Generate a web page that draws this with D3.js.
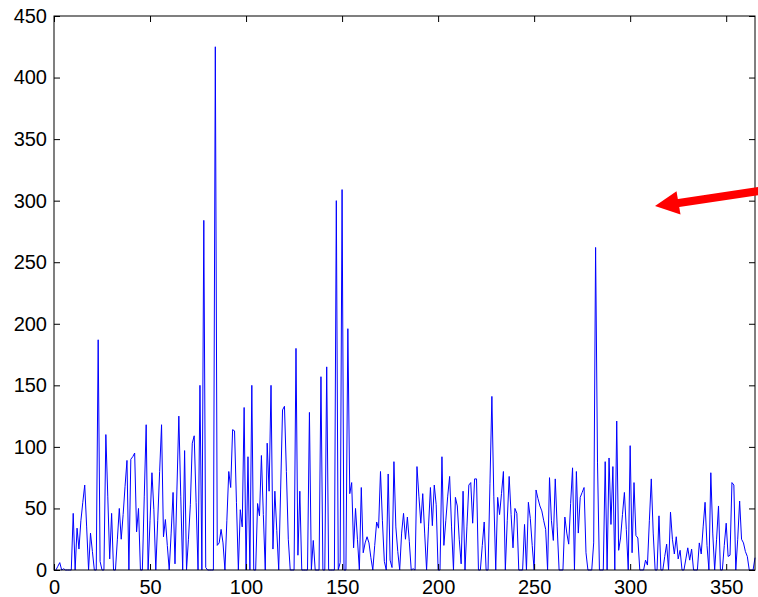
<!DOCTYPE html>
<html>
<head>
<meta charset="utf-8">
<script src="https://d3js.org/d3.v7.min.js"></script>
<style>
  body { margin: 0; background: #fff; }
  svg { display: block; }
  .tick text { font-family: "Liberation Sans", Arial, Helvetica, sans-serif; font-size: 20px; fill: #000; }
</style>
</head>
<body>
<div id="chart"></div>
<script>
// daily values, day 1..365
const values = [
  0, 3, 6, 0, 1, 0, 0, 0, 0, 46,
  0, 34, 17, 40, 55, 69, 35, 0, 30, 15,
  0, 0, 187, 7, 0, 0, 110, 60, 9, 46,
  0, 0, 25, 50, 25, 45, 68, 89, 0, 90,
  92, 95, 31, 50, 0, 0, 60, 118, 0, 40,
  79, 49, 0, 40, 80, 118, 27, 41, 20, 0,
  30, 63, 5, 65, 125, 60, 0, 97, 0, 25,
  53, 103, 109, 55, 0, 150, 0, 284, 2, 0,
  0, 0, 0, 425, 20, 22, 33, 22, 0, 40,
  80, 67, 114, 113, 55, 0, 49, 35, 132, 0,
  92, 0, 150, 0, 0, 54, 44, 93, 45, 0,
  103, 64, 150, 17, 64, 32, 0, 65, 130, 133,
  80, 25, 0, 0, 0, 180, 12, 64, 0, 0,
  0, 0, 128, 0, 24, 0, 0, 0, 157, 0,
  0, 165, 0, 0, 0, 0, 300, 0, 6, 309,
  0, 0, 196, 62, 71, 18, 50, 25, 0, 67,
  14, 22, 27, 22, 10, 0, 20, 39, 34, 80,
  40, 7, 0, 78, 8, 2, 88, 35, 15, 0,
  30, 46, 25, 43, 23, 0, 1, 0, 84, 60,
  38, 62, 30, 0, 35, 67, 36, 69, 53, 0,
  0, 92, 20, 40, 60, 76, 35, 0, 59, 52,
  25, 5, 64, 0, 35, 69, 71, 38, 74, 74,
  0, 0, 20, 39, 0, 0, 70, 141, 60, 0,
  59, 45, 62, 80, 0, 40, 76, 45, 18, 50,
  46, 0, 0, 0, 37, 0, 55, 42, 20, 0,
  65, 58, 52, 48, 40, 33, 0, 75, 40, 24,
  74, 35, 0, 0, 0, 43, 30, 21, 54, 83,
  0, 80, 30, 59, 63, 67, 14, 0, 0, 0,
  22, 262, 87, 0, 0, 0, 88, 0, 91, 37,
  84, 0, 121, 16, 26, 45, 63, 33, 0, 101,
  14, 71, 28, 26, 0, 0, 0, 8, 4, 40,
  74, 30, 0, 0, 44, 0, 0, 11, 21, 0,
  47, 25, 13, 27, 9, 16, 0, 0, 9, 18,
  8, 17, 0, 0, 0, 22, 13, 35, 55, 20,
  0, 79, 30, 0, 25, 52, 0, 0, 20, 38,
  11, 12, 71, 69, 0, 25, 56, 25, 22, 15,
  11, 0, 0, 0, 10
];
const xTicks = [0, 50, 100, 150, 200, 250, 300, 350];
const yTicks = [0, 50, 100, 150, 200, 250, 300, 350, 400, 450];
const xDomain = [0, 365];
const yDomain = [0, 450];

const width = 758;
const height = 597;
const plot = { left: 54, right: 755, top: 16, bottom: 570 };

const svg = d3.select("#chart").append("svg")
  .attr("width", width).attr("height", height);

const x = d3.scaleLinear().domain(xDomain).range([plot.left, plot.right]);
const y = d3.scaleLinear().domain(yDomain).range([plot.bottom, plot.top]);

// data line
svg.append("path")
  .datum(values)
  .attr("fill", "none")
  .attr("stroke", "#0000ff")
  .attr("stroke-width", 1)
  .attr("stroke-linejoin", "round")
  .attr("d", d3.line().x((d, i) => x(i + 1)).y(d => y(d)));

// axes, ticks inside like matlab
svg.append("g")
  .attr("transform", "translate(0," + plot.bottom + ")")
  .call(d3.axisBottom(x).tickValues(xTicks).tickSizeInner(-6).tickSizeOuter(0).tickPadding(10));

svg.append("g")
  .attr("transform", "translate(" + plot.left + ",0)")
  .call(d3.axisLeft(y).tickValues(yTicks).tickSizeInner(-6).tickSizeOuter(0).tickPadding(7));

svg.append("g")
  .attr("transform", "translate(0," + plot.top + ")")
  .call(d3.axisTop(x).tickValues(xTicks).tickSizeInner(-6).tickSizeOuter(0).tickFormat(""));

svg.append("g")
  .attr("transform", "translate(" + plot.right + ",0)")
  .call(d3.axisRight(y).tickValues(yTicks).tickSizeInner(-6).tickSizeOuter(0).tickFormat(""));

svg.selectAll(".domain").remove();
svg.selectAll(".tick line").attr("stroke", "#000");

svg.append("rect")
  .attr("x", plot.left).attr("y", plot.top)
  .attr("width", plot.right - plot.left).attr("height", plot.bottom - plot.top)
  .attr("fill", "none").attr("stroke", "#000").attr("stroke-width", 1);

// red annotation arrow
svg.append("line")
  .attr("x1", 762).attr("y1", 190.5)
  .attr("x2", 672).attr("y2", 204)
  .attr("stroke", "#ff0000").attr("stroke-width", 8);
svg.append("path")
  .attr("d", "M655,206 L676.5,191.2 L680.5,214.5 Z")
  .attr("fill", "#ff0000");
</script>
</body>
</html>
